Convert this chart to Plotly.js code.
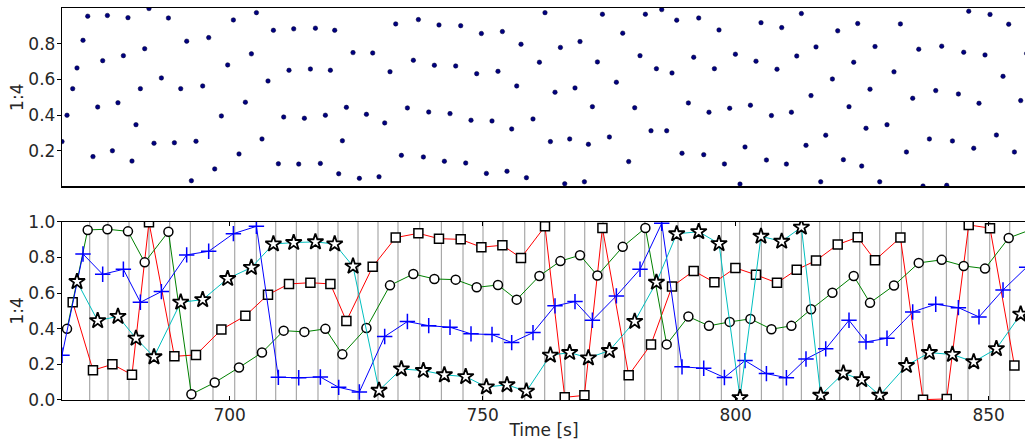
<!DOCTYPE html>
<html><head><meta charset="utf-8">
<script src="https://cdn.plot.ly/plotly-3.0.1.min.js"></script>
<style>html,body{margin:0;padding:0;overflow:hidden;background:#fff}#chart{width:1028px;height:445px}</style>
</head><body><div id="chart"></div><script>
// Series 1 (red, squares)
const tRed = [668.97,672.98,676.82,680.69,684.05,689.07,693.34,698.36,703.10,707.57,711.72,715.95,719.90,723.06,728.26,732.81,737.29,741.36,745.65,749.74,753.89,757.57,762.31,766.21,770.10,773.66,778.85,783.26,787.41,791.70,795.79,799.94,804.01,808.16,812.06,815.87,820.16,824.11,827.53,832.55,837.02,841.70,846.05,850.26,855.08];
const yRed = [0.548,0.167,0.200,0.142,0.997,0.245,0.253,0.395,0.472,0.591,0.651,0.658,0.651,0.443,0.748,0.911,0.935,0.905,0.901,0.857,0.868,0.797,0.974,0.015,0.026,0.965,0.139,0.312,0.636,0.724,0.660,0.741,0.702,0.657,0.731,0.782,0.872,0.913,0.784,0.911,0.002,0.006,0.982,0.964,0.193];
// Series 2 (green, circles)
const tGreen = [667.85,671.94,675.83,679.90,683.20,687.89,692.43,697.04,701.84,706.38,710.67,714.76,718.91,722.27,727.02,731.68,736.30,740.45,744.66,748.81,753.02,756.72,761.21,765.36,769.23,772.67,777.67,782.15,786.36,790.65,794.72,798.81,802.91,807.06,811.01,814.88,819.11,823.32,826.54,831.28,836.17,840.71,845.06,849.27,853.95,858.30];
const yGreen = [0.399,0.954,0.958,0.946,0.772,0.944,0.032,0.098,0.182,0.266,0.389,0.382,0.399,0.256,0.404,0.643,0.707,0.679,0.675,0.632,0.645,0.563,0.696,0.779,0.812,0.698,0.859,0.965,0.312,0.468,0.416,0.438,0.455,0.397,0.416,0.509,0.602,0.696,0.545,0.642,0.769,0.786,0.752,0.737,0.909,0.955];
// Series 3 (blue, plus)
const tBlue = [666.86,671.01,674.90,678.99,682.35,686.50,691.50,695.85,700.73,705.28,709.62,713.64,717.92,721.54,725.63,730.63,735.12,739.33,743.54,747.69,751.84,755.73,759.94,764.29,768.24,771.68,776.42,781.09,785.38,789.39,793.68,797.77,801.84,806.07,810.02,813.89,817.79,822.39,825.75,829.90,834.98,839.53,844.01,848.08,852.83,857.50];
const yBlue = [0.251,0.819,0.705,0.733,0.548,0.608,0.814,0.834,0.933,0.974,0.127,0.125,0.129,0.071,0.045,0.356,0.440,0.417,0.408,0.371,0.367,0.322,0.378,0.528,0.552,0.447,0.584,0.733,0.991,0.186,0.178,0.126,0.221,0.148,0.125,0.230,0.287,0.447,0.326,0.346,0.494,0.537,0.518,0.466,0.617,0.745];
// Series 4 (cyan, stars)
const tCyan = [669.82,673.91,677.92,681.48,685.04,690.32,694.66,699.60,704.29,708.64,712.65,716.94,720.75,724.37,729.51,733.93,738.28,742.43,746.64,750.73,754.80,758.64,763.38,767.19,770.89,775.04,780.04,784.33,788.34,792.69,796.70,800.85,805.00,809.09,812.98,816.80,821.28,824.90,828.46,833.74,838.28,842.83,847.04,851.52,856.32];
const yCyan = [0.664,0.445,0.469,0.346,0.242,0.548,0.563,0.681,0.743,0.875,0.883,0.887,0.875,0.750,0.054,0.174,0.165,0.141,0.131,0.073,0.085,0.049,0.251,0.266,0.236,0.277,0.441,0.660,0.932,0.944,0.877,0.013,0.918,0.890,0.969,0.026,0.150,0.114,0.026,0.193,0.266,0.255,0.214,0.288,0.481];
// Event markers (gray vertical lines)
const eventTimes = [672.33,675.95,680.10,684.05,688.14,692.23,696.70,700.99,705.28,709.09,713.18,717.45,721.40,725.36,729.31,733.26,737.55,741.84,746.11,750.06,754.01,758.30,762.25,766.21,770.16,773.77,778.06,782.02,785.32,788.60,792.89,797.17,800.79,805.08,809.35,812.98,816.60,820.55,824.51,828.46,832.75,837.02,841.64,845.91,850.20,854.15];
const xTicks = [700,750,800,850];
const yTicksTop = [0.2,0.4,0.6,0.8];
const yTicksBottom = [0.0,0.2,0.4,0.6,0.8,1.0];
const yLabel = '1:4';
const xLabel = 'Time [s]';

const xRange = [666.86, 857.37];
const font = {family:'DejaVu Sans, sans-serif', size:17, color:'#262626'};

const allT = [].concat(tBlue, tGreen, tRed, tCyan);
const allY = [].concat(yBlue, yGreen, yRed, yCyan);

const traces = [
  {x:allT, y:allY, xaxis:'x', yaxis:'y', mode:'markers', type:'scatter',
   marker:{color:'#000080', size:4.5, line:{color:'#000030', width:0.5}}, hoverinfo:'x+y'},
  {x:tRed, y:yRed, xaxis:'x2', yaxis:'y2', mode:'lines+markers', type:'scatter',
   line:{color:'#ff0000', width:1},
   marker:{symbol:'square', size:9, color:'#ffffff', line:{color:'#000000', width:1.5}}},
  {x:tGreen, y:yGreen, xaxis:'x2', yaxis:'y2', mode:'lines+markers', type:'scatter',
   line:{color:'#008000', width:1},
   marker:{symbol:'circle', size:9, color:'#ffffff', line:{color:'#000000', width:1.5}}},
  {x:tBlue, y:yBlue, xaxis:'x2', yaxis:'y2', mode:'lines+markers', type:'scatter',
   line:{color:'#0000ff', width:1},
   marker:{symbol:'cross-thin-open', size:11, color:'#0000ff', line:{color:'#0000ff', width:1.5}}},
  {x:tCyan, y:yCyan, xaxis:'x2', yaxis:'y2', mode:'lines+markers', type:'scatter',
   line:{color:'#00bfbf', width:1},
   marker:{symbol:'star', size:12, color:'#ffffff', line:{color:'#000000', width:1.8}}}
];

const shapes = eventTimes.map(t => ({type:'line', xref:'x2', yref:'y2 domain', x0:t, x1:t, y0:0, y1:1,
  line:{color:'#a8a8a8', width:1.2}, layer:'below'}));

const layout = {
  width:1028, height:445,
  margin:{l:62, r:2, t:8, b:45},
  paper_bgcolor:'#ffffff', plot_bgcolor:'#ffffff',
  font:font, showlegend:false,
  shapes:shapes,
  xaxis:{domain:[0,1], anchor:'y', range:xRange, showticklabels:false, ticks:'',
    showline:true, mirror:true, linecolor:'#000', linewidth:1.2, showgrid:false, zeroline:false},
  yaxis:{domain:[0.5449,1], anchor:'x', range:[0,1], tickvals:yTicksTop, ticktext:yTicksTop.map(v=>v.toFixed(1)),
    ticks:'outside', ticklen:4, tickcolor:'#000', ticklabelstandoff:-2, showline:true, mirror:true, linecolor:'#000', linewidth:1.2,
    showgrid:false, zeroline:false, title:{text:yLabel, font:font, standoff:0}},
  xaxis2:{domain:[0,1], anchor:'y2', range:xRange, tickvals:xTicks, ticktext:xTicks.map(String),
    ticks:'inside', ticklen:4, tickcolor:'#000', ticklabelstandoff:-1, showline:true, mirror:'ticks', linecolor:'#000', linewidth:1.2,
    showgrid:false, zeroline:false, title:{text:xLabel, font:font, standoff:0}},
  yaxis2:{domain:[0,0.4548], anchor:'x2', range:[0,1], tickvals:yTicksBottom, ticktext:yTicksBottom.map(v=>v.toFixed(1)),
    ticks:'outside', ticklen:4, tickcolor:'#000', ticklabelstandoff:-2, showline:true, mirror:true, linecolor:'#000', linewidth:1.2,
    showgrid:false, zeroline:false, title:{text:yLabel, font:font, standoff:0}}
};

Plotly.newPlot('chart', traces, layout, {staticPlot:true, displayModeBar:false});
</script></body></html>
